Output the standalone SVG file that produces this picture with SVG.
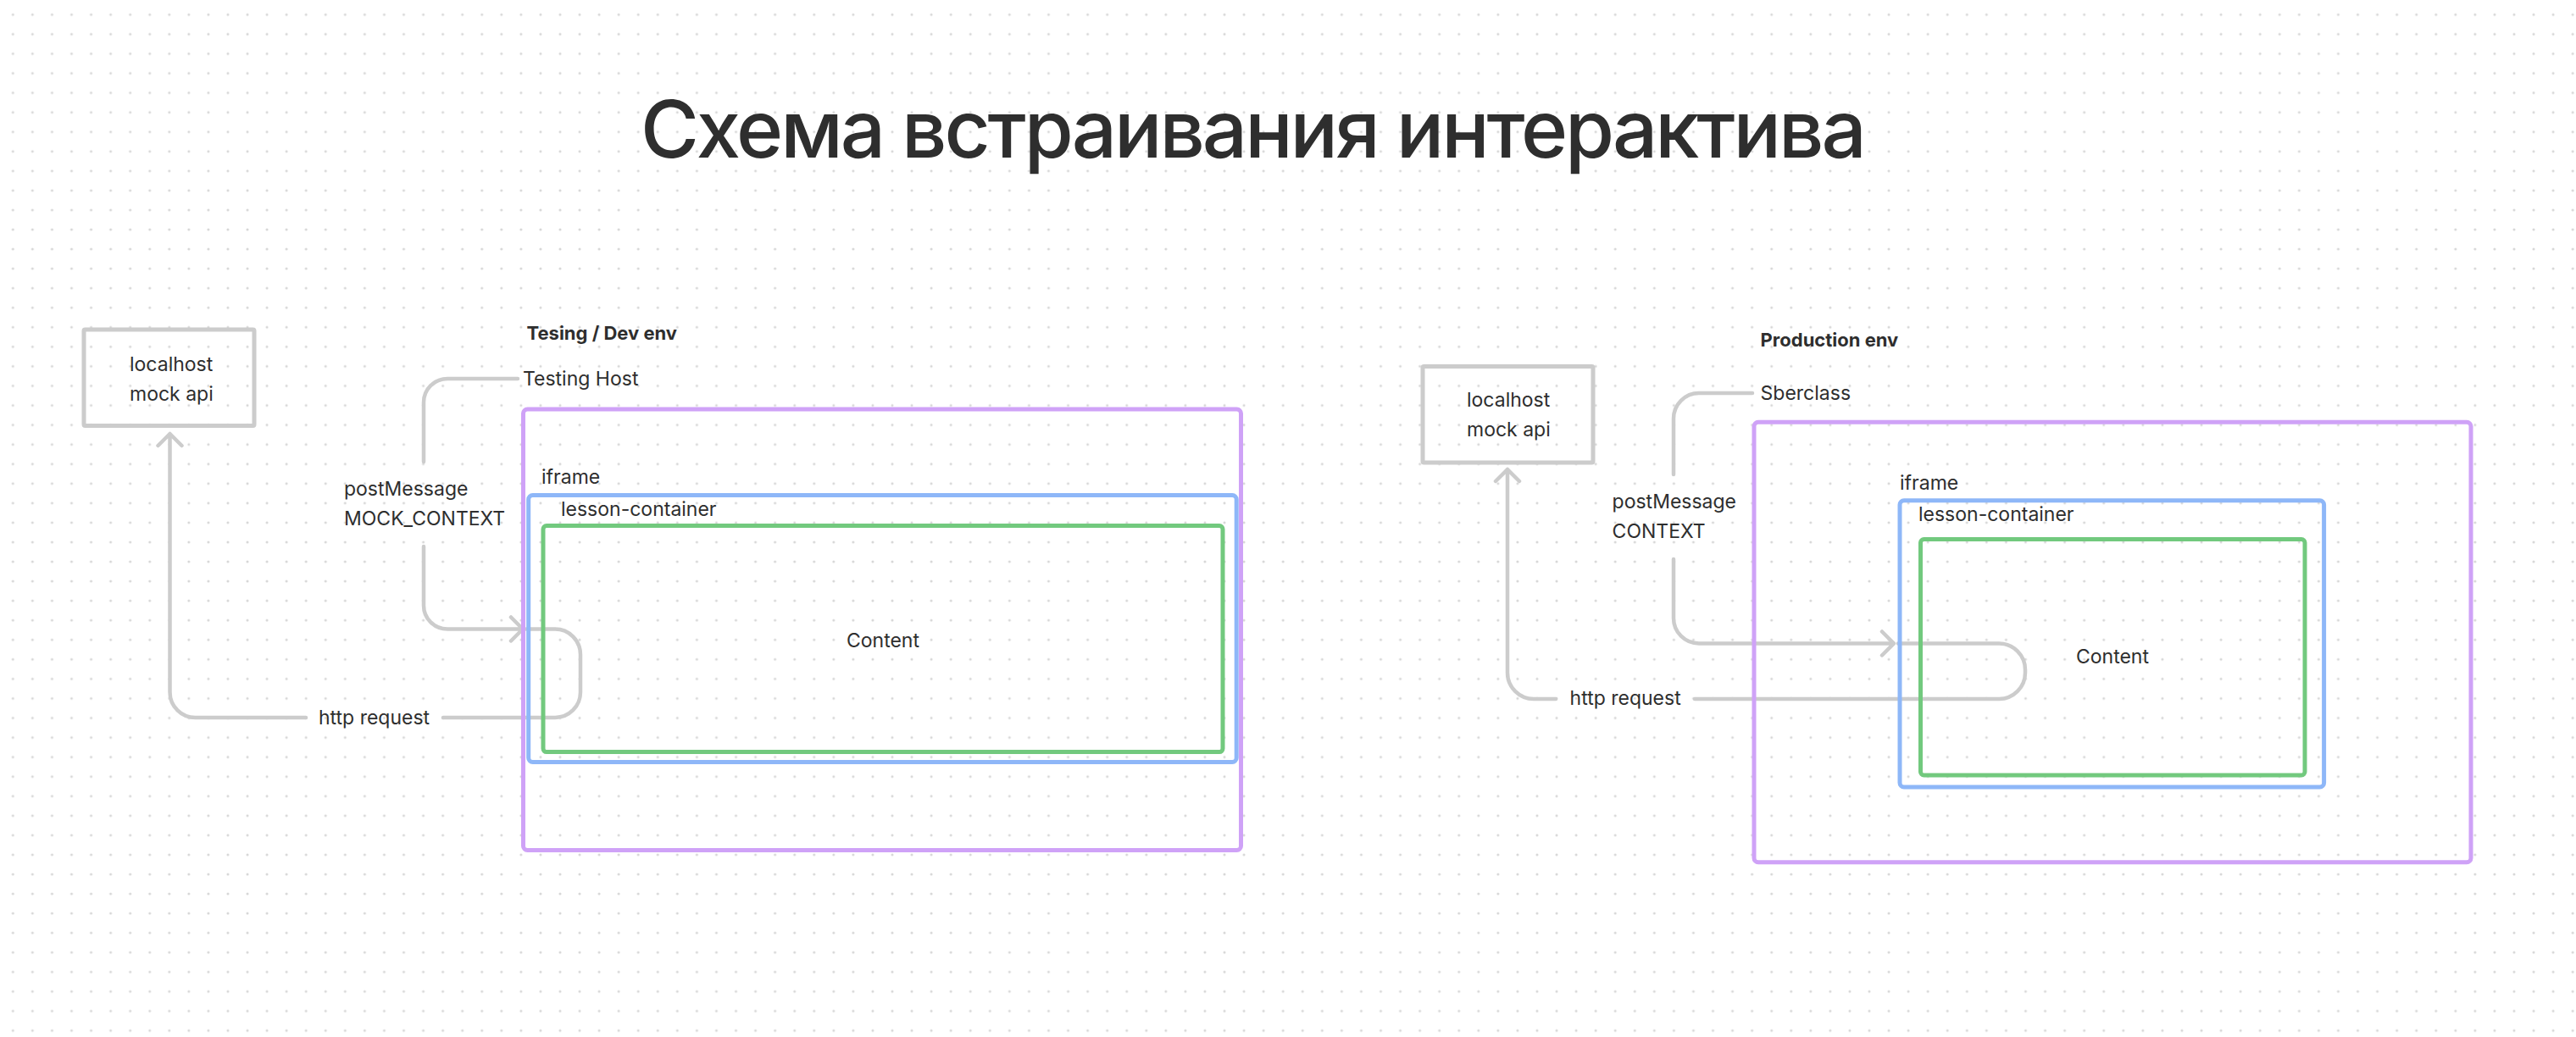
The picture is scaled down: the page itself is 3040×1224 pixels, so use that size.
<svg xmlns="http://www.w3.org/2000/svg" width="3040" height="1224" viewBox="0 0 3040 1224">
<defs>
<pattern id="dots" x="3.77" y="5.77" width="23.06" height="23.06" patternUnits="userSpaceOnUse">
<circle cx="11.53" cy="11.53" r="1.5" fill="#d6d6d6"/>
</pattern>
<style>
.t{font-family:Inter,"Noto Sans",sans-serif;fill:#2e2e2e;font-size:23px}
.b{font-weight:700;font-size:22px}
.title{font-size:94px;font-weight:500;letter-spacing:-3.1px}
.gray{fill:none;stroke:#cccccc;stroke-width:4.5;stroke-linecap:round;stroke-linejoin:round}
.host{fill:none;stroke:#cfa2f7;stroke-width:5}
.ifr{fill:none;stroke:#8eb7f8;stroke-width:5}
.cnt{fill:none;stroke:#72c97e;stroke-width:5}
.box{fill:none;stroke:#cccccc;stroke-width:5}
</style>
</defs>
<rect width="3040" height="1224" fill="#ffffff"/>
<rect width="3040" height="1224" fill="url(#dots)"/>

<text class="t title" x="756" y="186">Схема встраивания интерактива</text>

<g id="connectors">
<path class="gray" d="M611 447 H528 A28 28 0 0 0 500 475 V545"/>
<path class="gray" d="M500 645 V714 A28 28 0 0 0 528 742.5 H617 M603 728.5 L617 742.5 L603 756.5"/>
<path class="gray" d="M621 742.5 H655 A30 30 0 0 1 685 772.5 V817 A30 30 0 0 1 655 847 H523"/>
<path class="gray" d="M361 847 H231 A30 30 0 0 1 200.5 817 V512 M186.5 526 L200.5 512 L214.5 526"/>

<path class="gray" d="M2068 464 H2005 A30 30 0 0 0 1975 494 V560"/>
<path class="gray" d="M1975 660 V729.5 A30 30 0 0 0 2005 759.5 H2235 M2221 745.5 L2235 759.5 L2221 773.5"/>
<path class="gray" d="M2240 759.5 H2359 A31 31 0 0 1 2390 790.5 V794 A31 31 0 0 1 2359 825 H2000"/>
<path class="gray" d="M1836 825 H1810 A31 31 0 0 1 1779 794 V554 M1765 568 L1779 554 L1793 568"/>
</g>

<g id="labels">
<text class="t" x="406" y="585">postMessage</text>
<text class="t" x="406" y="620">MOCK_CONTEXT</text>
<text class="t" x="376" y="855">http request</text>
<text class="t" x="1902.6" y="600">postMessage</text>
<text class="t" x="1902.6" y="635">CONTEXT</text>
<text class="t" x="1852.6" y="832">http request</text>
</g>

<g id="mock-api-dev">
<rect class="box" x="99" y="389" width="201" height="113.5" rx="1.5"/>
<text class="t" x="153" y="438">localhost</text>
<text class="t" x="153" y="473">mock api</text>
</g>

<g id="dev-env">
<text class="t b" x="621.5" y="401">Tesing / Dev env</text>
<text class="t" x="617" y="455">Testing Host</text>
</g>
<g id="dev-host">
<rect class="host" x="617.5" y="483" width="847" height="520.5" rx="5"/>
<text class="t" x="639" y="571">iframe</text>
</g>
<g id="dev-iframe">
<rect class="ifr" x="623.7" y="584.5" width="835.5" height="315" rx="5"/>
<text class="t" x="662" y="609">lesson-container</text>
</g>
<g id="dev-content">
<rect class="cnt" x="641" y="620.6" width="802" height="267" rx="4"/>
<text class="t" x="1042" y="764" text-anchor="middle">Content</text>
</g>

<g id="mock-api-prod">
<rect class="box" x="1679" y="432.5" width="201" height="113.5" rx="1.5"/>
<text class="t" x="1731" y="480">localhost</text>
<text class="t" x="1731" y="515">mock api</text>
</g>

<g id="prod-env">
<text class="t b" x="2077.6" y="409">Production env</text>
<text class="t" x="2077.6" y="472">Sberclass</text>
</g>
<g id="prod-host">
<rect class="host" x="2070" y="498.3" width="846" height="519.5" rx="5"/>
<text class="t" x="2242" y="578">iframe</text>
</g>
<g id="prod-iframe">
<rect class="ifr" x="2242" y="590.7" width="500.6" height="338.3" rx="5"/>
<text class="t" x="2264" y="615">lesson-container</text>
</g>
<g id="prod-content">
<rect class="cnt" x="2266.5" y="636.5" width="453.5" height="278.5" rx="4"/>
<text class="t" x="2493" y="783" text-anchor="middle">Content</text>
</g>
</svg>
